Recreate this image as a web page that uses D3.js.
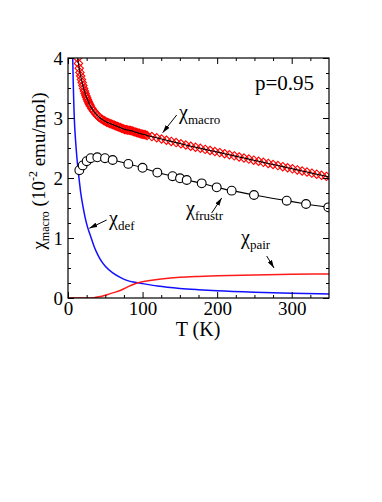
<!DOCTYPE html>
<html>
<head>
<meta charset="utf-8">
<script src="https://cdn.jsdelivr.net/npm/d3@7"></script>
</head>
<body style="margin:0;background:#fff">
<svg id="chart" width="382" height="502" font-family="Liberation Serif"></svg>
<script>
// ---- data ----
const macroT = [11,12,13,14,15,16,17,18,19,20,21,22,23,24,25,26,27,28,29,30,
  32,34,36,38,40,42,44,46,48,50,52,54,56,58,60,62,64,66,68,70,72,74,76,78,80,
  82,84,86,88,90,92,94,96,98,100,102,104,106,
  112.5,119,125.5,132,138.5,145,151.5,158,164.5,171,177.5,184,190.5,197,203.5,210,
  216.5,223,229.5,236,242.5,249,255.5,262,268.5,275,281.5,288,294.5,301,307.5,314,
  320.5,327,333.5,340,346.5,353];
const macroV = [4.25,4.12,4.0,3.91,3.83,3.76,3.70,3.64,3.59,3.54,3.49,3.45,3.41,3.37,3.34,3.31,3.28,3.25,3.225,3.20,
  3.16,3.12,3.09,3.06,3.035,3.01,2.99,2.975,2.96,2.945,2.93,2.92,2.91,2.90,2.89,2.88,2.87,2.86,2.85,2.84,2.83,2.82,2.81,2.805,2.80,
  2.795,2.79,2.785,2.775,2.765,2.76,2.75,2.745,2.735,2.73,2.725,2.72,2.71,
  2.69,2.67,2.65,2.63,2.61,2.59,2.57,2.55,2.53,2.513,2.495,2.477,2.459,2.441,2.423,2.405,
  2.387,2.369,2.351,2.333,2.315,2.297,2.279,2.261,2.243,2.225,2.207,2.189,2.171,2.153,2.135,2.117,
  2.099,2.081,2.063,2.045,2.027,2.009];

const frustrT = [15.2,19.7,25,30.4,39.3,49.6,59.9,80.9,100,119.8,140.2,150.2,159.2,179.3,199.4,219.5,249.4,293.3,319.2,349.1];
const frustrV = [2.13,2.21,2.28,2.33,2.345,2.33,2.30,2.235,2.17,2.09,2.03,1.995,1.967,1.911,1.844,1.789,1.717,1.622,1.567,1.511];

const defT = [6,7,8,9,10,11,12,13,14,15,17,20,23,26,30,35,40,45,50,60,70,80,90,100,120,150,175,200,250,300,350];
const defV = [4.2,3.6,3.15,2.85,2.65,2.48,2.33,2.2,2.08,1.97,1.76,1.53,1.34,1.19,1.04,0.86,0.72,0.61,0.53,0.42,0.345,0.29,0.262,0.24,0.2,0.16,0.138,0.12,0.095,0.078,0.067];

const pairT = [0,10,20,30,35,40,45,50,55,60,70,80,93,100,110,125,150,175,200,250,300,350];
const pairV = [0,0,0,0,0.005,0.015,0.03,0.045,0.065,0.085,0.125,0.185,0.25,0.27,0.29,0.315,0.345,0.36,0.37,0.385,0.395,0.4];

const xMajor = [0,100,200,300];
const yMajor = [0,1,2,3,4];
const xMinor = [25,50,75,125,150,175,225,250,275,325];
const yMinor = [0.25,0.5,0.75,1.25,1.5,1.75,2.25,2.5,2.75,3.25,3.5,3.75];

// ---- layout ----
const FONT = "Liberation Serif";
const svg = d3.select("#chart");
const L = 68, R = 329, T = 58, B = 298;
const x = d3.scaleLinear().domain([0,350]).range([L,R]);
const y = d3.scaleLinear().domain([0,4]).range([B,T]);

const defs = svg.append("defs");
defs.append("clipPath").attr("id","clip").append("rect")
  .attr("x",L).attr("y",T).attr("width",R-L).attr("height",B-T);
defs.append("marker").attr("id","arrow")
  .attr("viewBox","0 0 10 6").attr("refX",10).attr("refY",3)
  .attr("markerWidth",8).attr("markerHeight",5).attr("markerUnits","userSpaceOnUse")
  .attr("orient","auto")
  .append("path").attr("d","M0,0 L10,3 L0,6 Z").attr("fill","#000");

const plot = svg.append("g").attr("clip-path","url(#clip)");
const line = d3.line().x(d=>x(d[0])).y(d=>y(d[1])).curve(d3.curveMonotoneX);
const zip = (a,b)=>a.map((v,i)=>[v,b[i]]);

// blue χdef
plot.append("path").datum(zip(defT,defV)).attr("d",line)
  .attr("fill","none").attr("stroke","#1010ff").attr("stroke-width",1.5);
// red χpair
plot.append("path").datum(zip(pairT,pairV)).attr("d",line)
  .attr("fill","none").attr("stroke","#ff1a1a").attr("stroke-width",1.5);

// red diamonds
const dsz = 4.2;
plot.selectAll("path.dia").data(zip(macroT,macroV)).join("path").attr("class","dia")
  .attr("d",d=>{const cx=x(d[0]), cy=y(d[1]); return `M${cx},${cy-dsz}L${cx+dsz},${cy}L${cx},${cy+dsz}L${cx-dsz},${cy}Z`;})
  .attr("fill","none").attr("stroke","#ff0000").attr("stroke-width",1.1);
// black line through macro
plot.append("path").datum(zip(macroT,macroV)).attr("d",line)
  .attr("fill","none").attr("stroke","#000").attr("stroke-width",1.1);

// frustr line + circles
plot.append("path").datum(zip(frustrT,frustrV)).attr("d",line)
  .attr("fill","none").attr("stroke","#000").attr("stroke-width",1.1);
plot.selectAll("circle.fr").data(zip(frustrT,frustrV)).join("circle").attr("class","fr")
  .attr("cx",d=>x(d[0])).attr("cy",d=>y(d[1])).attr("r",4.4)
  .attr("fill","#fff").attr("stroke","#000").attr("stroke-width",1.1);

// ---- axes (ticks inward) ----
const fs = 19;
function styleAxis(g){ g.attr("font-family",FONT).attr("font-size",fs); g.select(".domain").remove(); g.selectAll("line").attr("stroke","#000"); g.selectAll("text").attr("font-size",fs).attr("font-family",FONT); }
svg.append("g").attr("transform",`translate(0,${B})`)
  .call(d3.axisBottom(x).tickValues(xMajor).tickSize(-6).tickPadding(3).tickFormat(d3.format("d"))).call(styleAxis);
svg.append("g").attr("transform",`translate(0,${B})`)
  .call(d3.axisBottom(x).tickValues(xMinor).tickSize(-3).tickFormat("")).call(styleAxis);
svg.append("g").attr("transform",`translate(0,${T})`)
  .call(d3.axisTop(x).tickValues(xMajor).tickSize(-6).tickFormat("")).call(styleAxis);
svg.append("g").attr("transform",`translate(0,${T})`)
  .call(d3.axisTop(x).tickValues(xMinor).tickSize(-3).tickFormat("")).call(styleAxis);
svg.append("g").attr("transform",`translate(${L},0)`)
  .call(d3.axisLeft(y).tickValues(yMajor).tickSize(-6).tickPadding(5).tickFormat(d3.format("d"))).call(styleAxis);
svg.append("g").attr("transform",`translate(${L},0)`)
  .call(d3.axisLeft(y).tickValues(yMinor).tickSize(-3).tickFormat("")).call(styleAxis);
svg.append("g").attr("transform",`translate(${R},0)`)
  .call(d3.axisRight(y).tickValues(yMajor).tickSize(-6).tickFormat("")).call(styleAxis);
svg.append("g").attr("transform",`translate(${R},0)`)
  .call(d3.axisRight(y).tickValues(yMinor).tickSize(-3).tickFormat("")).call(styleAxis);

svg.append("rect").attr("x",L).attr("y",T).attr("width",R-L).attr("height",B-T)
  .attr("fill","none").attr("stroke","#000").attr("stroke-width",1.2);

// ---- titles ----
svg.append("text").attr("x",198).attr("y",336).attr("text-anchor","middle")
  .attr("font-family",FONT).attr("font-size",20).text("T (K)");

const yt = svg.append("text").attr("transform","translate(45,171) rotate(-90)")
  .attr("text-anchor","middle").attr("font-family",FONT).attr("font-size",19);
yt.append("tspan").text("χ");
yt.append("tspan").attr("dy",4).attr("font-size",12).text("macro");
yt.append("tspan").attr("dy",-4).text(" (10");
yt.append("tspan").attr("dy",-8).attr("font-size",12).text("-2");
yt.append("tspan").attr("dy",8).text(" emu/mol)");

svg.append("text").attr("x",255).attr("y",90).attr("font-family",FONT).attr("font-size",21).text("p=0.95");

// ---- curve labels ----
function chiLabel(x0,y0,sub){
  const t = svg.append("text").attr("x",x0).attr("y",y0).attr("font-family",FONT).attr("font-size",20);
  t.append("tspan").text("χ");
  t.append("tspan").attr("dy",5).attr("font-size",13).text(sub);
}
chiLabel(179,119,"macro");
chiLabel(186,215,"frustr");
chiLabel(241,244,"pair");
chiLabel(109,225,"def");

// arrows
const arrows = [
  [[176.7,115],[162.7,132.7]],
  [[211.7,213],[221.7,198]],
  [[266.7,256],[274,268]],
  [[106.7,220],[89.3,228.3]]
];
svg.selectAll("line.arr").data(arrows).join("line").attr("class","arr")
  .attr("x1",d=>d[0][0]).attr("y1",d=>d[0][1]).attr("x2",d=>d[1][0]).attr("y2",d=>d[1][1])
  .attr("stroke","#000").attr("stroke-width",1).attr("marker-end","url(#arrow)");
</script>
</body>
</html>
